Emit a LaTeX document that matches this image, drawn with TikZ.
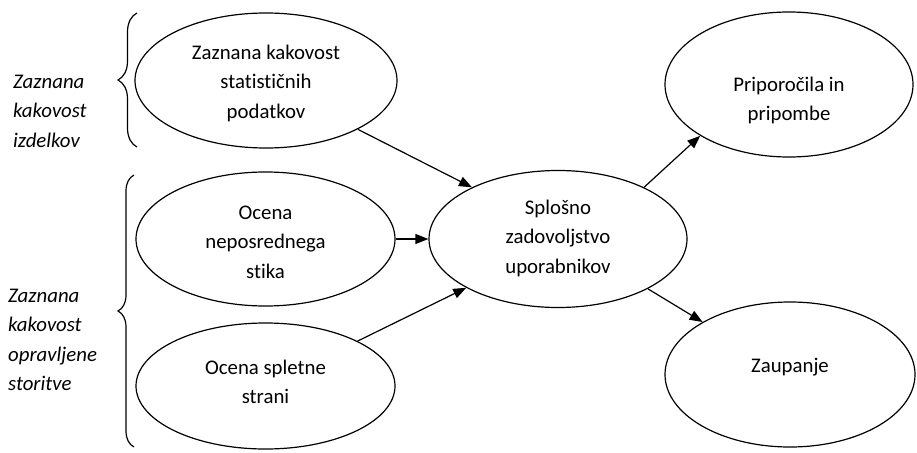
\documentclass[tikz,border=0pt]{standalone}
\usepackage{fontspec}
\setmainfont[Ligatures={NoCommon}]{Carlito}
\usetikzlibrary{shapes.geometric,arrows.meta,decorations.pathreplacing}
\begin{document}
\begin{tikzpicture}[x=1pt,y=-1pt,
  oval/.style={draw,ellipse,line width=1.2pt,inner sep=0pt},
  txt/.style={font=\fontsize{20.8}{29.5}\selectfont,align=center,inner sep=0pt},
  lbl/.style={font=\fontsize{20.8}{29.5}\selectfont\itshape,align=left,inner sep=0pt,anchor=west},
  conn/.style={line width=1.2pt,-{Triangle[length=13pt,width=10pt]}},
  brc/.style={line width=1.2pt,decorate,decoration={brace,amplitude=#1}}]
\useasboundingbox (0,0) rectangle (917,452);

\node[oval,minimum width=262pt,minimum height=135pt,
  label={[txt,yshift=-2.5pt]center:Zaznana kakovost\\statističnih\\podatkov}] (e1) at (266,80.5) {};
\node[oval,minimum width=259pt,minimum height=134pt,
  label={[txt,yshift=-3pt]center:Ocena\\neposrednega\\stika}] (e2) at (265.5,239) {};
\node[oval,minimum width=259pt,minimum height=126pt,
  label={[txt,yshift=4pt]center:Ocena spletne\\strani}] (e3) at (265.5,386) {};
\node[oval,minimum width=258pt,minimum height=137pt,
  label={[txt,yshift=1pt]center:Splošno\\zadovoljstvo\\uporabnikov}] (c) at (558,239) {};
\node[oval,minimum width=248pt,minimum height=145pt,
  label={[txt,yshift=-16pt]center:Priporočila in\\pripombe}] (p) at (789,84.5) {};
\node[oval,minimum width=250pt,minimum height=145pt,
  label={[txt,yshift=7pt]center:Zaupanje}] (z) at (790,374.5) {};

\draw[conn] (e1.-28) -- (c.149);
\draw[conn] (e2.east) -- (c.west);
\draw[conn] (e3.26) -- (c.208);
\draw[conn] (c.31) -- (p.210);
\draw[conn] (c.-29) -- (z.149);

\coordinate (b1b) at (137,147);
\coordinate (b1t) at (137,13);
\coordinate (b2b) at (134,447);
\coordinate (b2t) at (134,175);
\draw[brc=19pt] (b1b) -- (b1t);
\draw[brc=16pt] (b2b) -- (b2t);

\node[lbl] (l1) at (13,111) {Zaznana\\kakovost\\izdelkov};
\node[lbl] (l2) at (8,340) {Zaznana\\kakovost\\opravljene\\storitve};
\end{tikzpicture}
\end{document}
